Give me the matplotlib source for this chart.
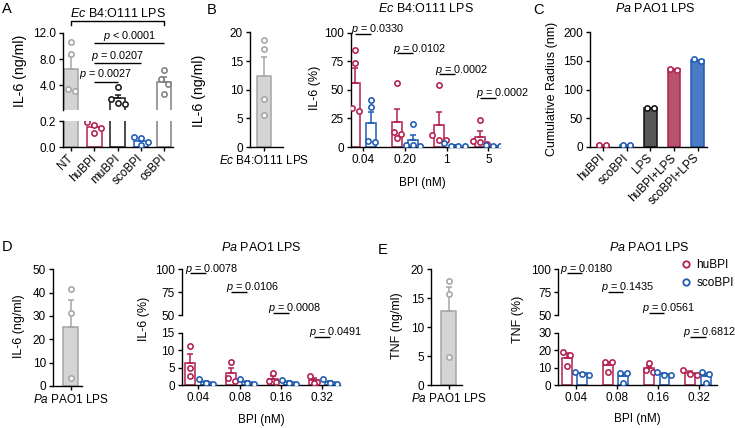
import numpy as np
import matplotlib.pyplot as plt
from matplotlib.lines import Line2D

plt.rcParams['font.family'] = ['Liberation Sans', 'DejaVu Sans']
plt.rcParams['mathtext.fontset'] = 'custom'
plt.rcParams['mathtext.rm'] = 'Liberation Sans'
plt.rcParams['mathtext.it'] = 'Liberation Sans:italic'
plt.rcParams['font.size'] = 8.5
plt.rcParams['axes.linewidth'] = 1.0

# ---- data ----
a_groups = ['NT', 'huBPI', 'muBPI', 'scoBPI', 'osBPI']
a_nt = [10.66, 8.77, 3.12, 3.49]
a_hu = [0.19, 0.17, 0.15, 0.11]
a_mu = [3.65, 1.95, 1.1, 1.2]
a_sco = [0.075, 0.07, 0.035, 0.012]
a_os = [6.31, 4.88, 4.26, 2.72]
a_p = ['0.0027', '0.0207', '< 0.0001']

b_lps = [17.1, 18.7, 8.4, 5.6]
b_doses = ['0.04', '0.20', '1', '5']
b_hu = [[84.5, 73.0, 33.7, 31.4], [55.5, 13.4, 11.3, 8.0],
        [54.0, 10.5, 6.5, 6.0], [24.0, 5.5, 4.0, 2.5]]
b_sco = [[41.0, 34.6, 5.2, 4.6], [20.0, 2.0, 1.5, 1.0],
         [3.5, 1.0, 0.8, 0.5], [2.0, 0.5, 0.5, 0.3]]
b_p = ['0.0330', '0.0102', '0.0002', '0.0002']

c_groups = ['huBPI', 'scoBPI', 'LPS', 'huBPI+LPS', 'scoBPI+LPS']
c_vals = [[2.4, 2.4], [2.4, 2.4], [67.0, 68.0], [134.0, 136.0], [149.0, 153.0]]

de_doses = ['0.04', '0.08', '0.16', '0.32']
d_lps = [41.7, 31.2, 3.3]
d_hu = [[11.2, 4.8, 2.6], [6.7, 2.0, 1.2], [3.3, 1.1, 0.8], [2.6, 1.0, 0.6]]
d_sco = [[1.6, 0.5, 0.3], [1.6, 0.6, 0.4], [1.5, 0.5, 0.4], [1.6, 0.5, 0.4]]
d_p = ['0.0078', '0.0106', '0.0008', '0.0491']

e_lps = [18.0, 15.7, 4.8]
e_hu = [[19.1, 17.2, 10.9], [13.4, 13.0, 7.6], [12.4, 8.6, 7.6], [8.6, 6.3, 5.7]]
e_sco = [[7.6, 6.5, 5.7], [7.1, 6.8, 1.0], [7.5, 6.0, 5.7], [7.5, 6.5, 1.0]]
e_p = ['0.0180', '0.1435', '0.0561', '0.6812']

RED = '#b31f4f'
BLUE = '#1f5bb4'
GREY = '#a6a6a6'
DGREY = '#808080'
W, H = 735, 428
PSIZE = 7.8

fig = plt.figure(figsize=(W / 100, H / 100), dpi=100)


def px_axes(l, t, r, b):
    ax = fig.add_axes([l / W, 1 - b / H, (r - l) / W, (b - t) / H])
    ax.spines[['top', 'right']].set_visible(False)
    ax.tick_params(length=3, width=1.0, pad=2, labelsize=8.5)
    return ax


def spread(ax, x0, vals, gap=7.0):
    # points at nearly the same height go side by side
    tr = ax.transData
    ys = [tr.transform((x0, v))[1] for v in vals]
    order = list(np.argsort(ys)[::-1])
    px0 = tr.transform((x0, 0))[0]
    rows, cur = [], [order[0]]
    for i in order[1:]:
        if abs(ys[cur[0]] - ys[i]) < gap * 0.8:
            cur.append(i)
        else:
            rows.append(cur)
            cur = [i]
    rows.append(cur)
    xs = np.zeros(len(vals))
    for row in rows:
        for k, i in enumerate(row):
            px = px0 + (k - (len(row) - 1) / 2) * gap
            xs[i] = tr.inverted().transform((px, ys[i]))[0]
    return xs


def bar_dots(bar_axes, dot_ax, x, vals, face, edge, width, err=True):
    m = np.mean(vals)
    for ax in bar_axes:
        ax.bar(x, m, width, color=face, edgecolor=edge, linewidth=1.1, zorder=2)
        if err:
            sem = np.std(vals, ddof=1) / np.sqrt(len(vals))
            ax.errorbar(x, m, yerr=[[0], [sem]], fmt='none', ecolor=edge,
                        elinewidth=1.1, capsize=2.2, capthick=1.1, zorder=3)
    xs = spread(dot_ax, x, vals)
    dot_ax.plot(xs, vals, 'o', ls='none', ms=3.8, mfc='white', mec=edge,
                mew=1.15, zorder=4)


def p_line(ax, x1, x2, y, label, centered=False, dx=-3.0):
    ax.plot([x1, x2], [y, y], color='black', lw=1.0, clip_on=False,
            solid_capstyle='butt')
    if centered:
        ax.annotate(label, xy=((x1 + x2) / 2, y), xytext=(0, 3.2),
                    textcoords='offset points', ha='center', va='baseline',
                    annotation_clip=False, fontsize=PSIZE)
    else:
        ax.annotate(label, xy=(x1, y), xytext=(dx, 1.0),
                    textcoords='offset points', ha='left', va='baseline',
                    annotation_clip=False, fontsize=PSIZE)


def ptxt(v):
    if v.startswith('<'):
        return r'$\it{p}$ ' + v
    return r'$\it{p}$ = ' + v


def ftext(x, y, s, **kw):
    fig.text(x / W, 1 - y / H, s, **kw)


def ylab(x, y, s, size=9):
    ftext(x, y, s, rotation=90, ha='center', va='center', fontsize=size)


# ---- A ----
aT = px_axes(63, 33, 173, 110)
aB = px_axes(63, 121, 173, 147)
for ax in (aT, aB):
    ax.set_xlim(-0.35, 4.38)
aT.set_ylim(0.2, 12)
aT.set_yticks([4, 8, 12], ['4.0', '8.0', '12.0'])
aT.spines['bottom'].set_visible(False)
aT.set_xticks([])
aB.set_ylim(0, 0.2)
aB.set_yticks([0, 0.2], ['0.0', '0.2'])
aB.set_xticks(range(5))
aB.set_xticklabels(a_groups, rotation=45, ha='right', va='center',
                   rotation_mode='anchor')
aB.tick_params(axis='x', pad=4)
both = (aT, aB)
bar_dots(both, aT, 0, a_nt, '#d4d4d4', GREY, 0.62)
bar_dots([aB], aB, 1, a_hu, 'white', RED, 0.62)
bar_dots(both, aT, 2, a_mu, 'white', '#1a1a1a', 0.62)
bar_dots([aB], aB, 3, a_sco, 'white', BLUE, 0.62)
bar_dots(both, aT, 4, a_os, 'white', DGREY, 0.62)
for x2, y, p in zip([2, 3, 4], [4.51, 7.34, 10.42], a_p):
    p_line(aT, 1, x2, y, ptxt(p), centered=True)
aT.plot([0, 0, 4, 4], [13.23, 13.85, 13.85, 13.23], color='black', lw=1.0,
        clip_on=False)
aT.annotate(r'$\it{Ec}$ B4:O111 LPS', xy=(2, 13.85), xytext=(0, 2.8),
            textcoords='offset points', ha='center', va='baseline',
            annotation_clip=False, fontsize=9)
ylab(20, 71, 'IL-6 (ng/ml)', 10.2)

# ---- B ----
bL = px_axes(250, 32.5, 283, 147)
bL.set_xlim(-14.3, 18.7)
bL.set_ylim(0, 20)
bL.set_yticks([0, 5, 10, 15, 20])
bL.set_xticks([0], [r'$\it{Ec}$ B4:O111 LPS'])
bar_dots([bL], bL, 0, b_lps, '#d4d4d4', GREY, 14)
ylab(199, 91, 'IL-6 (ng/ml)', 10.2)

bR = px_axes(351, 32.5, 500, 147)
bR.set_xlim(-0.295, 3.28)
bR.set_ylim(0, 100)
bR.set_yticks([0, 25, 50, 75, 100])
bR.set_xticks(range(4), b_doses)
for i in range(4):
    bar_dots([bR], bR, i - 0.19, b_hu[i], 'white', RED, 0.24)
    bar_dots([bR], bR, i + 0.19, b_sco[i], 'white', BLUE, 0.24)
for i, (y, p) in enumerate(zip([99.1, 81.7, 63.6, 43.0], b_p)):
    p_line(bR, i - 0.19, i + 0.19, y, ptxt(p))
ylab(315, 88, 'IL-6 (%)')
ftext(422.5, 183, 'BPI (nM)', ha='center', va='center')
ftext(426, 12.3, r'$\it{Ec}$ B4:O111 LPS', ha='center', va='baseline', fontsize=9)

# ---- C ----
cA = px_axes(590, 32.3, 707, 146.7)
cA.set_xlim(-0.55, 4.4)
cA.set_ylim(0, 200)
cA.set_yticks([0, 50, 100, 150, 200])
cA.set_xticks(range(5))
cA.set_xticklabels(c_groups, rotation=45, ha='right', va='center',
                   rotation_mode='anchor')
cA.tick_params(axis='x', pad=4)
c_face = ['white', 'white', '#585858', '#b8536c', '#4b7cc3']
c_edge = [RED, BLUE, '#111111', RED, BLUE]
for i in range(5):
    bar_dots([cA], cA, i, c_vals[i], c_face[i], c_edge[i], 0.54, err=False)
ylab(552, 89, 'Cumulative Radius (nm)')
ftext(655, 12.3, r'$\it{Pa}$ PAO1 LPS', ha='center', va='baseline', fontsize=9)

# ---- D ----
dL = px_axes(53, 269.3, 82, 386)
dL.set_xlim(-17.5, 11.5)
dL.set_ylim(0, 50)
dL.set_yticks([0, 10, 20, 30, 40, 50])
dL.set_xticks([0], [r'$\it{Pa}$ PAO1 LPS'])
bar_dots([dL], dL, 0, d_lps, '#d4d4d4', GREY, 14.4)
ylab(19, 326, 'IL-6 (ng/ml)')


def split_axes(left, right, bot_lim, bot_ticks):
    top = px_axes(left, 269.3, right, 315.3)
    bot = px_axes(left, 332.7, right, 385)
    top.set_ylim(50, 100)
    top.set_yticks([50, 75, 100])
    top.spines['bottom'].set_visible(False)
    top.set_xticks([])
    bot.set_ylim(0, bot_lim)
    bot.set_yticks(bot_ticks)
    bot.set_xticks(range(4), de_doses)
    return top, bot


dT, dB = split_axes(181.7, 340, 15, [0, 5, 10, 15])
for ax in (dT, dB):
    ax.set_xlim(-0.40, 3.43)
for i in range(4):
    bar_dots([dB], dB, i - 0.2, d_hu[i], 'white', RED, 0.24)
    bar_dots([dB], dB, i + 0.19, d_sco[i], 'white', BLUE, 0.24)
for i, (y, p) in enumerate(zip([95.7, 75.7, 52.8], d_p[:3])):
    p_line(dT, i - 0.2, i + 0.19, y, ptxt(p), dx=-3.5)
p_line(dB, 3 - 0.2, 3 + 0.19, 13.85, ptxt(d_p[3]), dx=-3.5)
ylab(144, 319, 'IL-6 (%)')
ftext(261, 420, 'BPI (nM)', ha='center', va='center')
ftext(261, 251, r'$\it{Pa}$ PAO1 LPS', ha='center', va='baseline', fontsize=9)

# ---- E ----
eL = px_axes(431, 269.3, 461.7, 385)
eL.set_xlim(-17.5, 13.2)
eL.set_ylim(0, 20)
eL.set_yticks([0, 5, 10, 15, 20])
eL.set_xticks([0], [r'$\it{Pa}$ PAO1 LPS'])
bar_dots([eL], eL, 0, e_lps, '#d4d4d4', GREY, 15)
ylab(397, 326, 'TNF (ng/ml)')

eT, eB = split_axes(558.3, 716.7, 30, [0, 10, 20, 30])
for ax in (eT, eB):
    ax.set_xlim(-0.42, 3.43)
for i in range(4):
    bar_dots([eB], eB, i - 0.21, e_hu[i], 'white', RED, 0.24)
    bar_dots([eB], eB, i + 0.16, e_sco[i], 'white', BLUE, 0.24)
for i, (y, p) in enumerate(zip([95.7, 75.7, 52.8], e_p[:3])):
    p_line(eT, i - 0.21, i + 0.16, y, ptxt(p), dx=-5.2)
p_line(eB, 3 - 0.21, 3 + 0.16, 27.7, ptxt(e_p[3]), dx=-5.6)
ylab(518, 319, 'TNF (%)')
ftext(637.5, 419, 'BPI (nM)', ha='center', va='center')
ftext(649.5, 251, r'$\it{Pa}$ PAO1 LPS', ha='center', va='baseline', fontsize=9)

handles = [Line2D([], [], ls='none', marker='o', ms=4.6, mfc='white', mec=c, mew=1.3)
           for c in (RED, BLUE)]
fig.legend(handles, ['huBPI', 'scoBPI'], loc='upper left',
           bbox_to_anchor=(680.5 / W, 1 - 259.5 / H), frameon=False,
           handlelength=1.0, handletextpad=0.35, labelspacing=0.45,
           borderpad=0, borderaxespad=0, fontsize=8.5)

# panel letters
for letter, x, y in [('A', 2, 2), ('B', 207, 3), ('C', 533, 3),
                     ('D', 2, 240), ('E', 378, 243)]:
    ftext(x, y, letter, fontsize=10.5, ha='left', va='top')

fig.savefig('out.png', dpi=100)
